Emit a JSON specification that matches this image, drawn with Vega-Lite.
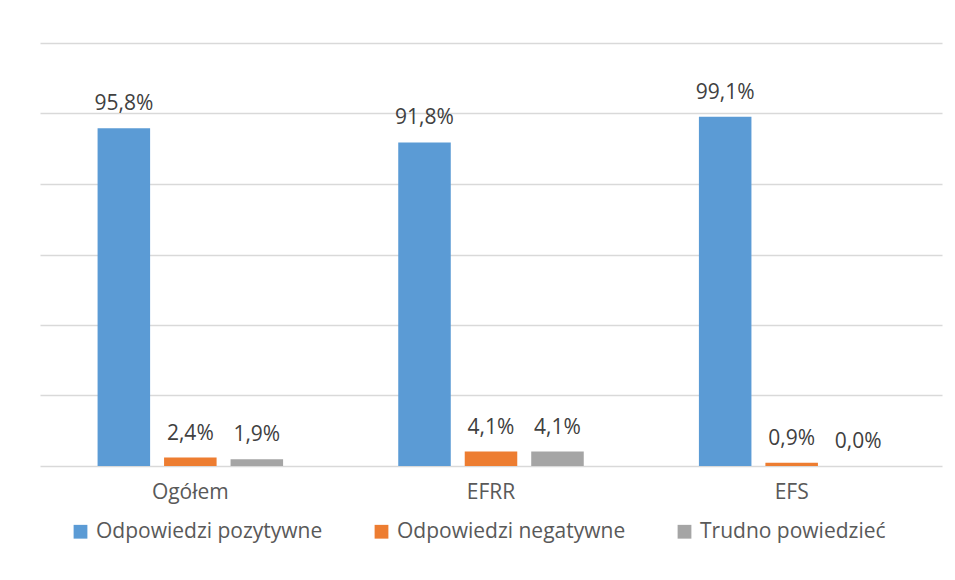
{
  "$schema": "https://vega.github.io/schema/vega-lite/v6.json",
  "width": 902,
  "height": 423,
  "autosize": {"type": "none"},
  "padding": {"left": 40, "top": 43, "right": 13, "bottom": 114},
  "background": "white",
  "config": {
    "locale": {"number": {"decimal": ",", "thousands": " ", "grouping": [3], "currency": ["", " zł"]}},
    "view": {"stroke": null},
    "font": "Open Sans"
  },
  "data": {
    "values": [
      {"grupa": "Ogółem", "seria": "Odpowiedzi pozytywne", "wartosc": 0.958},
      {"grupa": "Ogółem", "seria": "Odpowiedzi negatywne", "wartosc": 0.024},
      {"grupa": "Ogółem", "seria": "Trudno powiedzieć", "wartosc": 0.019},
      {"grupa": "EFRR", "seria": "Odpowiedzi pozytywne", "wartosc": 0.918},
      {"grupa": "EFRR", "seria": "Odpowiedzi negatywne", "wartosc": 0.041},
      {"grupa": "EFRR", "seria": "Trudno powiedzieć", "wartosc": 0.041},
      {"grupa": "EFS", "seria": "Odpowiedzi pozytywne", "wartosc": 0.991},
      {"grupa": "EFS", "seria": "Odpowiedzi negatywne", "wartosc": 0.009},
      {"grupa": "EFS", "seria": "Trudno powiedzieć", "wartosc": 0.0}
    ]
  },
  "encoding": {
    "x": {
      "field": "grupa", "type": "nominal", "sort": ["Ogółem", "EFRR", "EFS"],
      "scale": {"paddingInner": 0.383, "paddingOuter": 0.1915},
      "axis": {"title": null, "labelAngle": 0, "domain": false, "ticks": false, "labelFontSize": 21, "labelColor": "#595959", "labelPadding": 15, "labelFont": "Open Sans"}
    },
    "xOffset": {
      "field": "seria", "type": "nominal",
      "sort": ["Odpowiedzi pozytywne", "Odpowiedzi negatywne", "Trudno powiedzieć"],
      "scale": {"paddingInner": 0.21, "paddingOuter": 0}
    },
    "y": {
      "field": "wartosc", "type": "quantitative",
      "scale": {"domain": [0, 1.2], "nice": false},
      "axis": {"title": null, "labels": false, "ticks": false, "domain": false, "values": [0, 0.2, 0.4, 0.6, 0.8, 1.0, 1.2], "gridColor": "#d9d9d9", "gridWidth": 1.5}
    }
  },
  "layer": [
    {
      "mark": {"type": "bar"},
      "encoding": {
        "color": {
          "field": "seria", "type": "nominal",
          "sort": ["Odpowiedzi pozytywne", "Odpowiedzi negatywne", "Trudno powiedzieć"],
          "scale": {"domain": ["Odpowiedzi pozytywne", "Odpowiedzi negatywne", "Trudno powiedzieć"], "range": ["#5B9BD5", "#ED7D31", "#A5A5A5"]},
          "legend": {"title": null, "orient": "none", "legendX": 30, "legendY": 478, "direction": "horizontal", "symbolType": "square", "symbolSize": 190, "symbolStrokeWidth": 0, "labelFontSize": 21, "labelColor": "#595959", "labelFont": "Open Sans", "columnPadding": 48, "labelOffset": 5, "labelLimit": 400}
        }
      }
    },
    {
      "mark": {"type": "text", "baseline": "alphabetic", "dy": -18, "fontSize": 21, "color": "#404040", "font": "Open Sans"},
      "encoding": {
        "text": {"field": "wartosc", "type": "quantitative", "format": ".1%"}
      }
    }
  ]
}
